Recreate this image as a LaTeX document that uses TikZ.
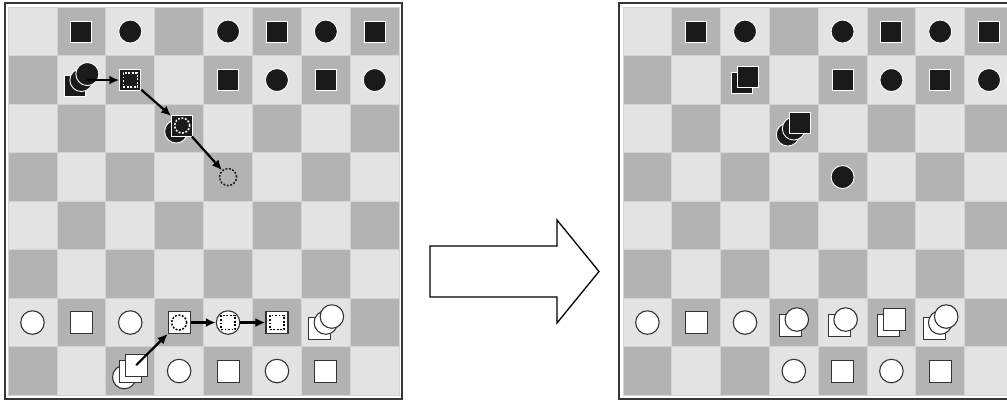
\documentclass[tikz,border=0pt]{standalone}
\usetikzlibrary{arrows.meta,calc}
\definecolor{lightsq}{RGB}{227,227,227}
\definecolor{darksq}{RGB}{179,179,179}
\definecolor{gridc}{RGB}{212,212,212}
\definecolor{framec}{RGB}{55,55,55}
\definecolor{blackp}{RGB}{26,26,26}
\definecolor{wedge}{RGB}{51,51,51}
\tikzset{
  bsq/.style={rectangle,fill=blackp,draw=white,line width=0.9pt,minimum size=21pt,inner sep=0pt},
  bci/.style={circle,fill=blackp,draw=white,line width=0.9pt,minimum size=23pt,inner sep=0pt},
  wsq/.style={rectangle,fill=white,draw=wedge,line width=1.1pt,minimum size=22pt,inner sep=0pt},
  wci/.style={circle,fill=white,draw=wedge,line width=1.1pt,minimum size=23.5pt,inner sep=0pt},
  dotline/.style={dash pattern=on 1.9pt off 1.6pt,line width=1.5pt},
  dsqw/.style={rectangle,draw=white,dotline,minimum size=14pt,inner sep=0pt},
  dciw/.style={circle,draw=white,dotline,minimum size=15pt,inner sep=0pt},
  dsqk/.style={rectangle,draw=black,dotline,minimum size=14pt,inner sep=0pt},
  dcik/.style={circle,draw=black,dotline,minimum size=15pt,inner sep=0pt},
  ghost/.style={circle,draw=blackp,dotline,minimum size=17pt,inner sep=0pt},
  arr/.style={-{Latex[length=10pt,width=9pt]},line width=2.2pt,black},
  bigarrow/.style={draw=black,line width=1.3pt,fill=white,line join=miter},
  boardframe/.style={draw=framec,line width=1.8pt}
}
\newcommand{\myboard}{%
  \foreach \c in {1,...,8}{
    \foreach \r in {1,...,8}{
      \pgfmathtruncatemacro\s{mod(\c+\r,2)}
      \ifnum\s=0 \def\sqcol{lightsq}\else\def\sqcol{darksq}\fi
      \filldraw[fill=\sqcol,draw=gridc,line width=0.8pt] (\c-1,\r-1) rectangle (\c,\r);
    }
  }
}
\begin{document}
\begin{tikzpicture}[x=1pt,y=-1pt]
\useasboundingbox (0,0) rectangle (1007,401);
\clip (0,0) rectangle (1007,401);
\fill[white] (0,0) rectangle (1007,401);

% ---------- frames ----------
\draw[boardframe] (5,3.2) rectangle (401.8,399);
\draw[boardframe] (619,3.2) rectangle (1025,399);

% ---------- left board ----------
\begin{scope}[shift={(8pt,-7.3pt)},x=48.9pt,y=-48.5pt]
\myboard
% row 1
\node[bsq] (L21) at (1.5,0.5) {};
\node[bci] (L31) at (2.5,0.5) {};
\node[bci] (L51) at (4.5,0.5) {};
\node[bsq] (L61) at (5.5,0.5) {};
\node[bci] (L71) at (6.5,0.5) {};
\node[bsq] (L81) at (7.5,0.5) {};
% row 2
\node[bsq] (L22a) at ([shift={(-6pt,-6pt)}]1.5,1.5) {};
\node[bci] (L22b) at (1.5,1.5) {};
\node[bci] (L22c) at ([shift={(6pt,6pt)}]1.5,1.5) {};
\node[bsq] (L32) at (2.5,1.5) {};
\node[dsqw] at (L32) {};
\node[bsq] (L52) at (4.5,1.5) {};
\node[bci] (L62) at (5.5,1.5) {};
\node[bsq] (L72) at (6.5,1.5) {};
\node[bci] (L82) at (7.5,1.5) {};
% row 3
\node[bci] (L43a) at ([shift={(-3pt,-3pt)}]3.5,2.5) {};
\node[bsq] (L43b) at ([shift={(3pt,3pt)}]3.5,2.5) {};
\node[dciw] at (L43b) {};
% row 4
\node[ghost] (L54) at (4.5,3.5) {};
% row 7
\node[wci] (L17) at (0.5,6.5) {};
\node[wsq] (L27) at (1.5,6.5) {};
\node[wci] (L37) at (2.5,6.5) {};
\node[wsq] (L47) at (3.5,6.5) {};
\node[dcik] at (L47) {};
\node[wci] (L57) at (4.5,6.5) {};
\node[dsqk] at (L57) {};
\node[wsq] (L67) at (5.5,6.5) {};
\node[dsqk] at (L67) {};
\node[wsq] (L77a) at ([shift={(-6pt,-6pt)}]6.5,6.5) {};
\node[wci] (L77b) at (6.5,6.5) {};
\node[wci] (L77c) at ([shift={(6pt,6pt)}]6.5,6.5) {};
% row 8
\node[wci] (L38a) at ([shift={(-6pt,-6pt)}]2.5,7.5) {};
\node[wsq] (L38b) at (2.5,7.5) {};
\node[wsq] (L38c) at ([shift={(6pt,6pt)}]2.5,7.5) {};
\node[wci] (L48) at (3.5,7.5) {};
\node[wsq] (L58) at (4.5,7.5) {};
\node[wci] (L68) at (5.5,7.5) {};
\node[wsq] (L78) at (6.5,7.5) {};
% arrows
\draw[arr] (L22c |- L32) -- (L32);
\draw[arr] (L32) -- (L43b);
\draw[arr] (L43b) -- (L54);
\draw[arr] (L38c.center) -- (L47);
\draw[arr] (L47) -- (L57);
\draw[arr] (L57) -- (L67);
\end{scope}

% ---------- right board ----------
\begin{scope}[shift={(623pt,-7.3pt)},x=48.8pt,y=-48.5pt]
\myboard
% row 1
\node[bsq] (R21) at (1.5,0.5) {};
\node[bci] (R31) at (2.5,0.5) {};
\node[bci] (R51) at (4.5,0.5) {};
\node[bsq] (R61) at (5.5,0.5) {};
\node[bci] (R71) at (6.5,0.5) {};
\node[bsq] (R81) at (7.5,0.5) {};
% row 2
\node[bsq] (R32a) at ([shift={(-3pt,-3pt)}]2.5,1.5) {};
\node[bsq] (R32b) at ([shift={(3pt,3pt)}]2.5,1.5) {};
\node[bsq] (R52) at (4.5,1.5) {};
\node[bci] (R62) at (5.5,1.5) {};
\node[bsq] (R72) at (6.5,1.5) {};
\node[bci] (R82) at (7.5,1.5) {};
% row 3
\node[bci] (R43a) at ([shift={(-6pt,-6pt)}]3.5,2.5) {};
\node[bci] (R43b) at (3.5,2.5) {};
\node[bsq] (R43c) at ([shift={(6pt,6pt)}]3.5,2.5) {};
% row 4
\node[bci] (R54) at (4.5,3.5) {};
% row 7
\node[wci] (R17) at (0.5,6.5) {};
\node[wsq] (R27) at (1.5,6.5) {};
\node[wci] (R37) at (2.5,6.5) {};
\node[wsq] (R47a) at ([shift={(-3pt,-3pt)}]3.5,6.5) {};
\node[wci] (R47b) at ([shift={(3pt,3pt)}]3.5,6.5) {};
\node[wsq] (R57a) at ([shift={(-3pt,-3pt)}]4.5,6.5) {};
\node[wci] (R57b) at ([shift={(3pt,3pt)}]4.5,6.5) {};
\node[wsq] (R67a) at ([shift={(-3pt,-3pt)}]5.5,6.5) {};
\node[wsq] (R67b) at ([shift={(3pt,3pt)}]5.5,6.5) {};
\node[wsq] (R77a) at ([shift={(-6pt,-6pt)}]6.5,6.5) {};
\node[wci] (R77b) at (6.5,6.5) {};
\node[wci] (R77c) at ([shift={(6pt,6pt)}]6.5,6.5) {};
% row 8
\node[wci] (R48) at (3.5,7.5) {};
\node[wsq] (R58) at (4.5,7.5) {};
\node[wci] (R68) at (5.5,7.5) {};
\node[wsq] (R78) at (6.5,7.5) {};
\end{scope}

% ---------- big arrow ----------
\draw[bigarrow] (430,246) -- (557,246) -- (557,220) -- (599,271.5) -- (557,323) -- (557,297) -- (430,297) -- cycle;
\end{tikzpicture}
\end{document}
